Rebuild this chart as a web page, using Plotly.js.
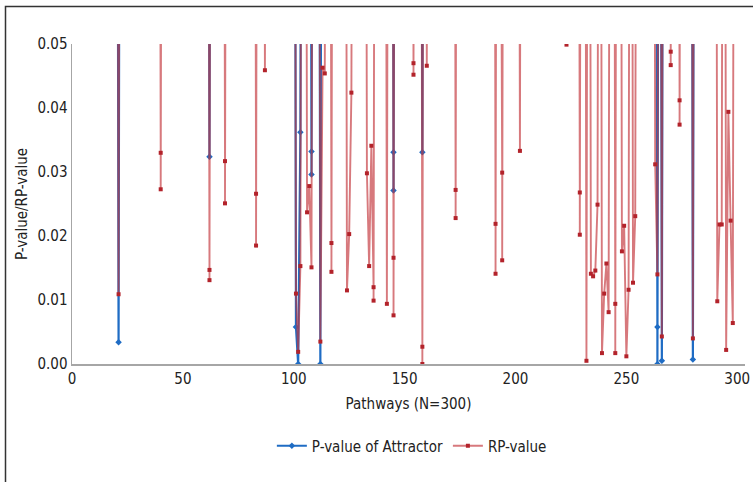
<!DOCTYPE html>
<html>
<head>
<meta charset="utf-8">
<script src="https://cdn.plot.ly/plotly-3.0.1.min.js"></script>
<style>
  html, body { margin: 0; padding: 0; background: #fff; }
  #chart { width: 753px; height: 482px; }
</style>
</head>
<body>
<div id="chart"></div>
<script>
// Off-scale values (above the 0.05 axis limit, not readable) are shown as 0.2
const H = 0.2;

// P-value of Attractor
const attractorPathway = [20, 21, 22, 61, 62, 63, 100, 101, 102, 103, 104, 107, 108, 108, 109, 111, 112, 113,
  144, 145, 145, 146, 157, 158, 159, 263, 264, 264, 265, 266, 267, 279, 280, 281];
const attractorPValue = [H, 0.0034, H, H, 0.0324, H, H, 0.0058, 0.0000, 0.0362, H, H, 0.0332, 0.0296, H, H, 0.0000, H,
  H, 0.0331, 0.0271, H, H, 0.0331, H, H, 0.0058, 0.0000, H, 0.0005, H, H, 0.0007, H];

// RP-value
const rpPathway = [20, 21, 22, 39, 40, 40, 41, 61, 62, 62, 63, 68, 69, 69, 70, 82, 83, 83, 84, 86, 87, 88,
  100, 101, 102, 103, 104, 105, 106, 107, 108, 109, 111, 112, 113, 114, 115, 116, 117, 117, 118,
  123, 124, 125, 126, 127, 132, 133, 134, 135, 136, 136, 137, 141, 142, 143, 144, 145, 145, 146,
  153, 154, 154, 155, 157, 158, 158, 159, 160, 161, 172, 173, 173, 174, 190, 191, 191, 192, 194, 194, 195,
  201, 202, 203, 222, 223, 224, 228, 229, 229, 230, 231, 232, 233, 234, 235, 236, 237, 238, 239, 240, 241, 242, 243,
  244, 245, 245, 246, 247, 248, 249, 250, 251, 252, 253, 254, 255, 262, 263, 264, 265, 266, 267,
  269, 270, 270, 271, 273, 274, 274, 275, 279, 280, 281, 290, 291, 292, 293, 294, 295, 296, 297, 298, 299];
const rpValue = [H, 0.0109, H, H, 0.0330, 0.0273, H, H, 0.0147, 0.0131, H, H, 0.0317, 0.0251, H, H, 0.0266, 0.0185, H, H, 0.0459, H,
  H, 0.0110, 0.0019, 0.0153, H, H, 0.0237, 0.0278, 0.0151, H, H, 0.0035, 0.0463, 0.0454, H, H, 0.0189, 0.0144, H,
  H, 0.0115, 0.0203, 0.0424, H, H, 0.0298, 0.0153, 0.0341, 0.0120, 0.0099, H, H, 0.0094, H, H, 0.0166, 0.0076, H,
  H, 0.0470, 0.0452, H, H, 0.0027, 0.0000, H, 0.0466, H, H, 0.0272, 0.0228, H, H, 0.0219, 0.0141, H, 0.0299, 0.0162, H,
  H, 0.0333, H, H, 0.0499, H, H, 0.0268, 0.0202, H, H, 0.0005, H, 0.0141, 0.0137, 0.0146, 0.0249, H, 0.0017, 0.0110, 0.0157, 0.0081, H,
  H, 0.0094, 0.0017, H, H, 0.0176, 0.0216, 0.0012, 0.0116, H, 0.0127, 0.0231, H, H, 0.0312, 0.0140, H, 0.0043, H,
  H, 0.0488, 0.0467, H, H, 0.0412, 0.0374, H, H, 0.0040, H, H, 0.0098, 0.0218, 0.0218, H, 0.0022, 0.0394, 0.0224, 0.0064, H];

const yTicks = [0, 0.01, 0.02, 0.03, 0.04, 0.05];
const xTicks = [0, 50, 100, 150, 200, 250, 300];

const FONT = "'Liberation Sans Narrow', 'DejaVu Sans Condensed', 'Roboto Condensed', 'Arial Narrow', sans-serif";
const FS = 15;

const traces = [
  {
    x: attractorPathway, y: attractorPValue, name: 'P-value of Attractor',
    type: 'scatter', mode: 'lines+markers',
    line: { color: '#1f6cc4', width: 2.2, simplify: false },
    marker: { color: '#1f6cc4', size: 5, symbol: 'diamond' }
  },
  {
    x: rpPathway, y: rpValue, name: 'RP-value',
    type: 'scatter', mode: 'lines+markers',
    line: { color: 'rgba(195,52,58,0.66)', width: 1.9, simplify: false },
    marker: { color: '#b3232b', size: 4, symbol: 'square' }
  }
];

const M = { l: 72, r: 8, t: 44, b: 118 };
const W = 753, Hh = 482;
const pw = W - M.l - M.r, ph = Hh - M.t - M.b;
const px2x = p => (p - M.l) / pw;
const py2y = p => (Hh - M.b - p) / ph;

const layout = {
  width: W, height: Hh,
  margin: M,
  paper_bgcolor: '#fff', plot_bgcolor: '#fff',
  font: { family: FONT, size: FS, color: '#222' },
  showlegend: true,
  legend: {
    orientation: 'h', x: 0.505, xanchor: 'center', y: py2y(446), yanchor: 'middle',
    itemwidth: 30,
    font: { family: FONT, size: FS, color: '#222' }
  },
  xaxis: {
    range: [0, 303.5], tickvals: xTicks, ticktext: xTicks.map(String),
    showline: true, linecolor: '#a6a6a6', linewidth: 1.5,
    showgrid: false, zeroline: false, ticks: '',
    tickfont: { family: FONT, size: FS, color: '#222' },
    title: { text: 'Pathways (N=300)', font: { family: FONT, size: FS, color: '#222' }, standoff: 12 }
  },
  yaxis: {
    range: [0, 0.05], tickvals: yTicks, ticktext: yTicks.map(v => v.toFixed(2)),
    showline: true, linecolor: '#a6a6a6', linewidth: 1.5,
    showgrid: false, zeroline: false, ticks: '',
    tickfont: { family: FONT, size: FS, color: '#222' },
    title: { text: 'P-value/RP-value', font: { family: FONT, size: FS, color: '#222' }, standoff: 6 }
  },
  shapes: [{
    type: 'rect', xref: 'paper', yref: 'paper',
    x0: px2x(5.5), x1: px2x(770), y0: py2y(500), y1: py2y(6.5),
    line: { color: '#333', width: 1.5 }, fillcolor: 'rgba(0,0,0,0)', layer: 'above'
  }]
};

Plotly.newPlot('chart', traces, layout, { displayModeBar: false, staticPlot: true });
</script>
</body>
</html>
